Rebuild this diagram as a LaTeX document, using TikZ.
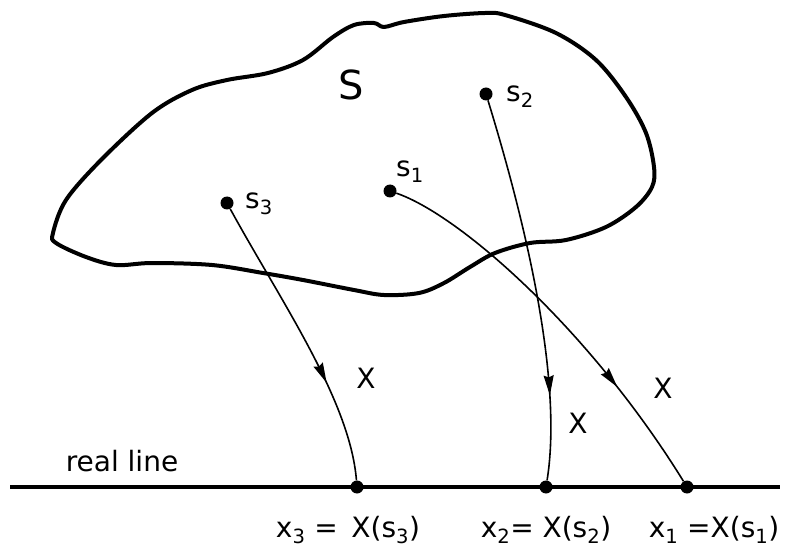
\documentclass[tikz,border=0pt]{standalone}
\usepackage{fontspec}
\setmainfont{DejaVu Sans}
\usepackage{tikz}
\usetikzlibrary{arrows.meta, decorations.markings}

\begin{document}
\begin{tikzpicture}[x=1pt, y=-1pt,
  pt/.style={circle, fill=black, inner sep=0pt, minimum size=13pt},
  lbl/.style={font=\fontsize{28}{30}\selectfont, inner sep=0pt},
  maparr/.style={line width=1.6pt, postaction={decorate},
                 decoration={markings, mark=at position #1 with
                 {\arrow{Stealth[length=20pt, width=10pt, inset=2pt]}}}},
]
  \useasboundingbox (0,0) rectangle (787,548);

  % the set S
  \draw[line width=4pt, line join=round] plot[smooth cycle, tension=0.55] coordinates {
    (53,233) (66,200) (101,160) (152,113) (192,90) (227,80) (268,73)
    (303,60) (333,37) (354,25) (374,23) (384,27) (404,22) (444,16)
    (485,13) (505,15) (556,33) (596,60) (626,97) (646,133) (654,167)
    (652,187) (636,207) (606,227) (566,240) (530,243) (495,253)
    (470,267) (444,283) (419,293) (384,295) (354,290) (303,280)
    (263,273) (212,265) (152,263) (116,265) (86,257) (56,243)};
  \node[lbl, font=\fontsize{40}{42}\selectfont] (Slbl) at (351,85) {S};

  % points of S
  \node[pt] (s1) at (390,191) {};
  \node[pt] (s2) at (486,94) {};
  \node[pt] (s3) at (227,203) {};
  \node[lbl] (s1lbl) at (410,172) {s\textsubscript{1}};
  \node[lbl] (s2lbl) at (520,97) {s\textsubscript{2}};
  \node[lbl] (s3lbl) at (259,204) {s\textsubscript{3}};

  % real line
  \coordinate (lineL) at (10,487);
  \coordinate (lineR) at (780,487);
  \draw[line width=4pt] (lineL) -- (lineR);
  \node[lbl] (rl) at (122,461) {real line};
  \node[pt] (x3) at (357,487) {};
  \node[pt] (x2) at (546,487) {};
  \node[pt] (x1) at (687,487) {};

  % the map X
  \draw[maparr=0.66] (s3) .. controls (280,300) and (350,400) .. (x3);
  \draw[maparr=0.78] (s2) .. controls (540,270) and (560,400) .. (x2);
  \draw[maparr=0.72] (s1) .. controls (460,215) and (590,330) .. (x1);
  \node[lbl] (X3) at (366,378) {X};
  \node[lbl] (X2) at (578,423) {X};
  \node[lbl] (X1) at (663,388) {X};

  \node[lbl] (x3lbl) at (348,530) {x\textsubscript{3} = \,X(s\textsubscript{3})};
  \node[lbl] (x2lbl) at (546,530) {x\textsubscript{2}= X(s\textsubscript{2})};
  \node[lbl] (x1lbl) at (714,530) {x\textsubscript{1} =X(s\textsubscript{1})};
\end{tikzpicture}
\end{document}
